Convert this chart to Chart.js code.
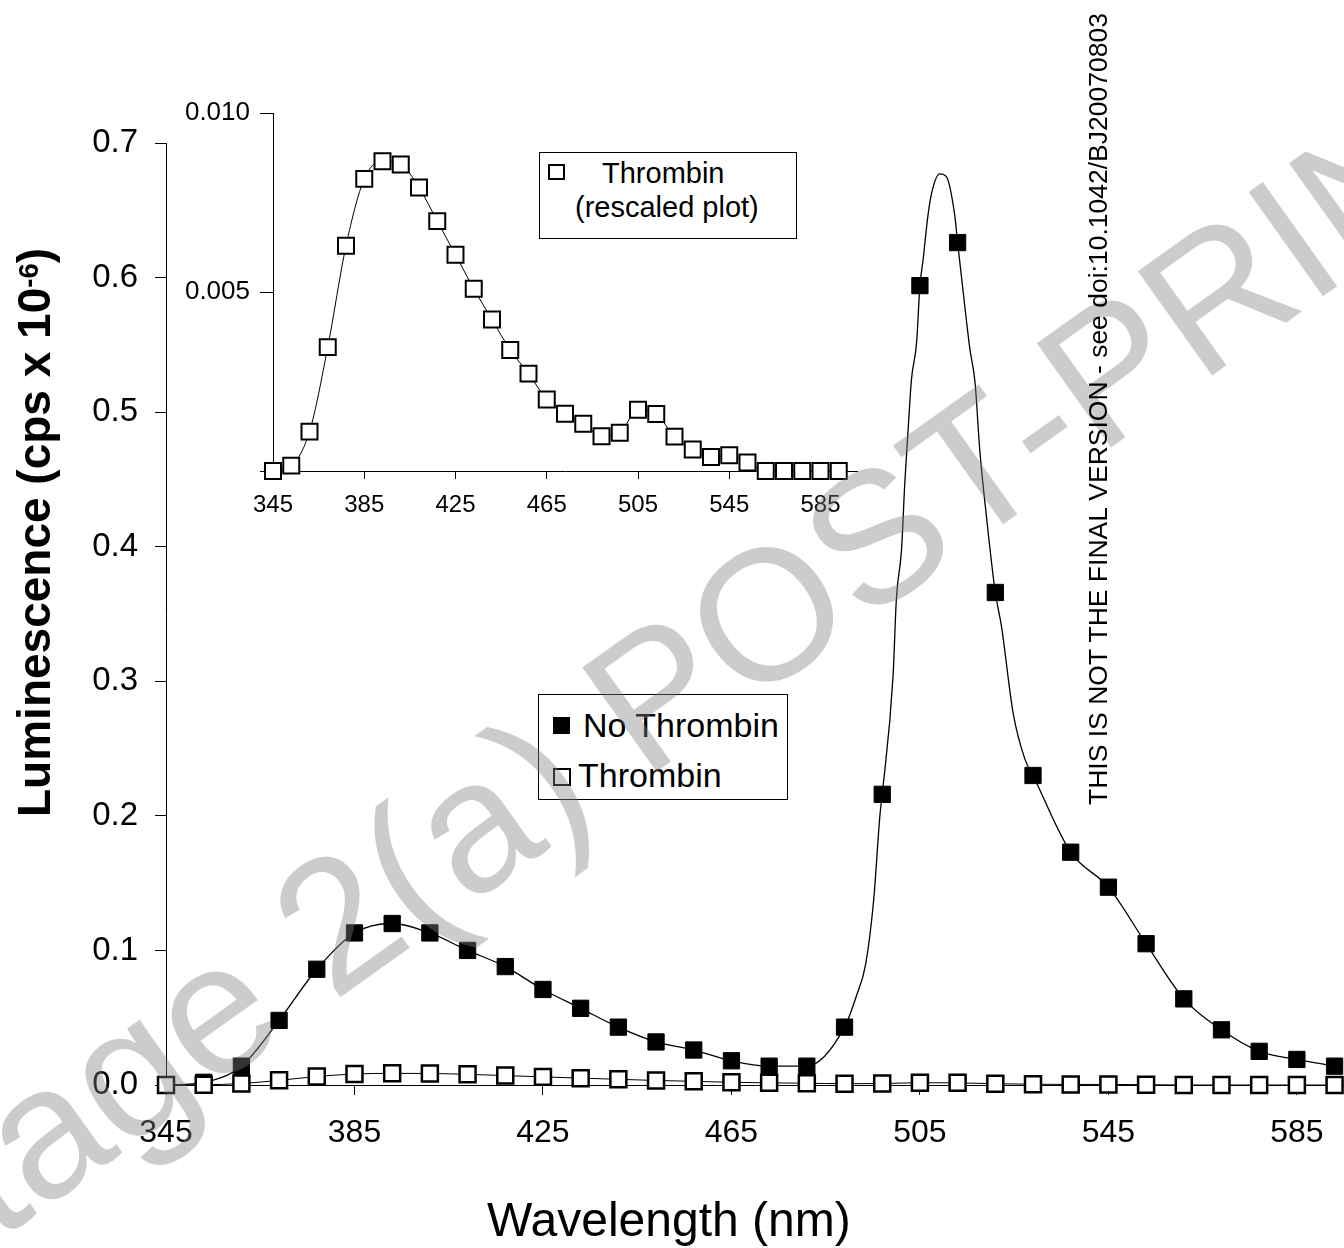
<!DOCTYPE html>
<html>
<head>
<meta charset="utf-8">
<script src="https://cdn.jsdelivr.net/npm/chart.js@4.4.0/dist/chart.umd.min.js"></script>
<style>
  html, body { margin: 0; padding: 0; background: #fff; }
  #page { position: relative; width: 1344px; height: 1248px; overflow: hidden;
          font-family: "Liberation Sans", Arial, sans-serif; color: #000; }
  canvas { position: absolute; }
  #main { left: 0; top: 0; }
  #inset { left: 180px; top: 90px; }
  .txt { position: absolute; white-space: nowrap; line-height: 1; }
  .rot { transform-origin: 0 0; transform: rotate(-90deg); }
  .box { position: absolute; border: 1px solid #000; background: #fff; box-sizing: border-box; }
  .sq { position: absolute; box-sizing: border-box; }
  .sup { font-size: 60%; position: relative; top: -0.45em; }
</style>
</head>
<body>
<div id="page">
  <canvas id="main" width="1344" height="1248"></canvas>
  <canvas id="inset" width="700" height="450"></canvas>

  <!-- legend of the main plot -->
  <div class="box" style="left:538px;top:694px;width:250px;height:106px;"></div>
  <div class="sq" style="left:553px;top:717px;width:17px;height:17px;background:#000;"></div>
  <div class="txt" style="left:583px;top:708px;font-size:34px;">No Thrombin</div>
  <div class="sq" style="left:553px;top:768px;width:18px;height:18px;border:2.5px solid #000;background:#fff;"></div>
  <div class="txt" style="left:578px;top:758px;font-size:34px;">Thrombin</div>

  <!-- legend of the inset -->
  <div class="box" style="left:539px;top:152px;width:258px;height:87px;"></div>
  <div class="sq" style="left:548px;top:164px;width:17px;height:16px;border:2px solid #000;background:#fff;"></div>
  <div class="txt" style="left:602px;top:159px;font-size:29px;">Thrombin</div>
  <div class="txt" style="left:575px;top:193px;font-size:29px;">(rescaled plot)</div>

  <!-- axis titles -->
  <div class="txt" style="left:487px;top:1196px;font-size:48px;">Wavelength (nm)</div>
  <div class="txt rot" style="left:11px;top:817px;font-size:46px;font-weight:bold;">Luminescence (cps x 10<span class="sup">-6</span>)</div>

  <!-- watermark -->
  <div class="txt" style="left:-196px;top:1187px;font-size:186px;color:rgba(128,128,128,0.4);transform-origin:0 0;transform:rotate(-35.5deg);">Stage 2(a) POST-PRINT</div>

  <div class="txt rot" style="left:1085px;top:805px;font-size:26.5px;">THIS IS NOT THE FINAL VERSION - see doi:10.1042/BJ20070803</div>
</div>

<script>
// wavelength of every plotted marker (nm)
const wavelengths = [345, 353, 361, 369, 377, 385, 393, 401, 409, 417, 425, 433, 441, 449, 457, 465,
                     473, 481, 489, 497, 505, 513, 521, 529, 537, 545, 553, 561, 569, 577, 585, 593];

// luminescence (cps x 10^-6)
const noThrombin = [0.000, 0.002, 0.014, 0.048, 0.086, 0.113, 0.120, 0.113, 0.100, 0.088, 0.071, 0.057,
                    0.043, 0.032, 0.026, 0.018, 0.014, 0.014, 0.043, 0.216, 0.594, 0.626, 0.366, 0.230,
                    0.173, 0.147, 0.105, 0.064, 0.041, 0.025, 0.019, 0.014];
const thrombin = [0.00000, 0.00015, 0.00110, 0.00346, 0.00629, 0.00816, 0.00865, 0.00856, 0.00792, 0.00698,
                  0.00604, 0.00509, 0.00423, 0.00338, 0.00272, 0.00200, 0.00160, 0.00132, 0.00097, 0.00107,
                  0.00171, 0.00159, 0.00096, 0.00060, 0.00039, 0.00044, 0.00024, 0.00000, 0.00000, 0.00000,
                  0.00000, 0.00000];

// the no-thrombin trace is drawn at finer resolution around the 510 nm peak
const peakNm  = [491.5, 493.5, 495.2, 496.5, 499.3, 500.0, 501.1, 501.8, 502.5, 503.2, 504.3, 505.7, 506.7,
                 507.5, 509.2, 510.6, 512.4, 514.9, 515.6, 516.7, 517.7, 519.1, 522.3, 524.8, 527.3];
const peakVal = [0.066, 0.090, 0.138, 0.200, 0.304, 0.361, 0.398, 0.448, 0.487, 0.524, 0.552, 0.614, 0.646,
                 0.663, 0.677, 0.675, 0.646, 0.567, 0.547, 0.522, 0.472, 0.423, 0.341, 0.276, 0.242];

// tick labels
const xTicks = [345, 385, 425, 465, 505, 545, 585];
const yTicksMain = [0, 0.1, 0.2, 0.3, 0.4, 0.5, 0.6, 0.7];
const yTicksInset = [0, 0.005, 0.010];

const FONT = "'Liberation Sans', Arial, sans-serif";
Chart.defaults.font.family = FONT;
Chart.defaults.color = '#000';

function pts(xs, ys) {
  return xs.map((x, i) => ({ x: x, y: ys[i] }));
}

var trace = pts(wavelengths, noThrombin).concat(pts(peakNm, peakVal));
trace.sort((a, b) => a.x - b.x);

function axis(opts) {
  // black axis line with outside tick marks, no grid
  return Object.assign({
    type: 'linear',
    bounds: 'data',
    grid: { drawOnChartArea: false, drawTicks: true, color: '#000', lineWidth: 1 },
    border: { display: true, color: '#000', width: 1 }
  }, opts);
}

// pin a scale to a fixed size so the plot area lands where the figure has it
function fixWidth(w) {
  return s => { s.width = w; s.paddingTop = 0; s.paddingBottom = 0; };
}
function fixHeight(h) {
  return s => { s.height = h; s.paddingLeft = 0; s.paddingRight = 0; };
}

// main plot
new Chart(document.getElementById('main'), {
  type: 'line',
  data: {
    datasets: [
      {
        label: 'Thrombin',
        data: pts(wavelengths, thrombin),
        borderColor: '#000',
        borderWidth: 1,
        cubicInterpolationMode: 'monotone',
        pointStyle: 'rect',
        pointRadius: 11.3,
        pointBackgroundColor: '#fff',
        pointBorderColor: '#000',
        pointBorderWidth: 2.5,
        clip: false
      },
      {
        label: 'No Thrombin',
        data: pts(wavelengths, noThrombin),
        showLine: false,
        pointStyle: 'rect',
        pointRadius: 11.5,
        pointBackgroundColor: '#000',
        pointBorderColor: '#000',
        pointBorderWidth: 1,
        clip: false
      },
      {
        label: 'No Thrombin trace',
        data: trace,
        borderColor: '#000',
        borderWidth: 1.3,
        pointRadius: 0,
        cubicInterpolationMode: 'monotone',
        clip: false
      }
    ]
  },
  options: {
    responsive: false,
    animation: false,
    events: [],
    layout: { autoPadding: false, padding: { top: 143, left: 0, right: 0, bottom: 0 } },
    plugins: { legend: { display: false }, tooltip: { enabled: false } },
    scales: {
      x: axis({
        min: 345, max: 595,
        afterBuildTicks: s => { s.ticks = xTicks.map(v => ({ value: v })); },
        afterFit: fixHeight(163),
        grid: { drawOnChartArea: false, color: '#000', tickLength: 10 },
        ticks: { font: { size: 32 }, padding: 19, autoSkip: false, maxRotation: 0, callback: v => String(v) }
      }),
      y: axis({
        min: 0, max: 0.7,
        afterBuildTicks: s => { s.ticks = yTicksMain.map(v => ({ value: v })); },
        afterFit: fixWidth(166),
        grid: { drawOnChartArea: false, color: '#000', tickLength: 11 },
        ticks: { font: { size: 33 }, padding: 17, callback: v => v.toFixed(1) }
      })
    }
  }
});

// inset: thrombin alone on its own scale
new Chart(document.getElementById('inset'), {
  type: 'line',
  data: {
    datasets: [{
      label: 'Thrombin (rescaled plot)',
      data: pts(wavelengths, thrombin),
      borderColor: '#000',
      borderWidth: 1,
      cubicInterpolationMode: 'monotone',
      pointStyle: 'rect',
      pointRadius: 11.3,
      pointBackgroundColor: '#fff',
      pointBorderColor: '#000',
      pointBorderWidth: 2,
      clip: false
    }]
  },
  options: {
    responsive: false,
    animation: false,
    events: [],
    layout: { autoPadding: false, padding: { top: 23, left: 0, right: 23, bottom: 0 } },
    plugins: { legend: { display: false }, tooltip: { enabled: false } },
    scales: {
      x: axis({
        min: 345, max: 601,
        afterBuildTicks: s => { s.ticks = xTicks.map(v => ({ value: v })); },
        afterFit: fixHeight(69),
        grid: { drawOnChartArea: false, color: '#000', tickLength: 8 },
        ticks: { font: { size: 24 }, padding: 12, autoSkip: false, maxRotation: 0, callback: v => String(v) }
      }),
      y: axis({
        min: 0, max: 0.010,
        afterBuildTicks: s => { s.ticks = yTicksInset.map(v => ({ value: v })); },
        afterFit: fixWidth(93),
        grid: { drawOnChartArea: false, color: '#000', tickLength: 13 },
        ticks: { font: { size: 26 }, padding: 10, callback: v => (v === 0 ? '' : v.toFixed(3)) }
      })
    }
  }
});
</script>
</body>
</html>
